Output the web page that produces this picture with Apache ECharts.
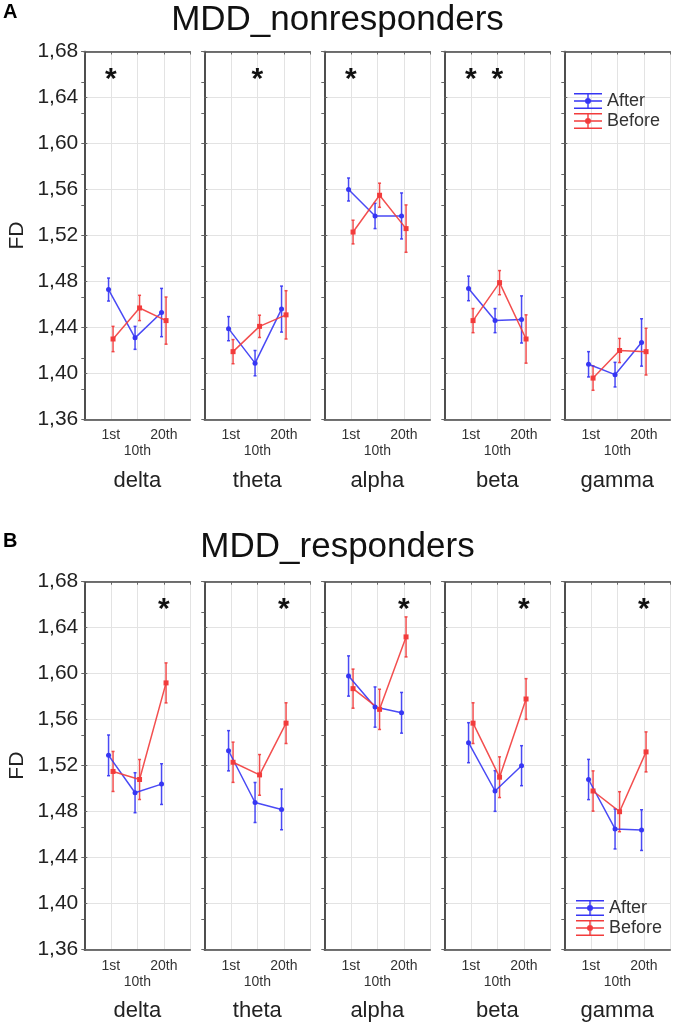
<!DOCTYPE html>
<html><head><meta charset="utf-8">
<script src="https://cdn.jsdelivr.net/npm/echarts@6/dist/echarts.min.js"></script>
<style>html,body{margin:0;padding:0;background:#fff}#c{width:675px;height:1029px}</style>
</head><body><div id="c"></div>
<script>
// ---------- data ----------
const bands = ['delta', 'theta', 'alpha', 'beta', 'gamma'];
const sessions = ['1st', '10th', '20th'];
const sessionPos = [1, 2, 3];
const yMin = 1.36, yMax = 1.68, yStep = 0.04;

// MDD_nonresponders (panel A): rows = bands, cols = sessions
const nonAfter     = [[1.473, 1.431, 1.453], [1.439, 1.409, 1.456], [1.560, 1.537, 1.537], [1.474, 1.446, 1.447], [1.408, 1.399, 1.427]];
const nonAfterErr  = [[0.010, 0.010, 0.021], [0.0105, 0.011, 0.020], [0.010, 0.011, 0.020], [0.0107, 0.0105, 0.0205], [0.011, 0.0107, 0.0206]];
const nonBefore    = [[1.430, 1.457, 1.446], [1.419, 1.441, 1.451], [1.523, 1.555, 1.526], [1.446, 1.479, 1.430], [1.396, 1.420, 1.419]];
const nonBeforeErr = [[0.011, 0.011, 0.0205], [0.0105, 0.0097, 0.021], [0.0103, 0.0105, 0.0206], [0.0105, 0.0105, 0.021], [0.0106, 0.0105, 0.0203]];
const nonSig       = [[0], [1], [0], [0, 1], []];

// MDD_responders (panel B)
const resAfter     = [[1.529, 1.4965, 1.504], [1.533, 1.488, 1.482], [1.598, 1.571, 1.566], [1.540, 1.498, 1.520], [1.508, 1.465, 1.464]];
const resAfterErr  = [[0.0177, 0.0174, 0.0177], [0.0175, 0.0174, 0.0177], [0.0175, 0.0175, 0.0177], [0.0174, 0.0177, 0.0174], [0.0175, 0.0174, 0.0177]];
const resBefore    = [[1.515, 1.508, 1.592], [1.523, 1.512, 1.557], [1.587, 1.569, 1.632], [1.557, 1.510, 1.578], [1.498, 1.480, 1.532]];
const resBeforeErr = [[0.0174, 0.0174, 0.0174], [0.0175, 0.0177, 0.0177], [0.017, 0.0175, 0.0174], [0.0177, 0.0177, 0.0177], [0.0175, 0.0174, 0.0174]];
const resSig       = [[2], [2], [2], [2], [2]];
const sigY = 1.661;

const panelTitles = ['MDD_nonresponders', 'MDD_responders'];
const panelLetters = ['A', 'B'];
const seriesNames = ['After', 'Before'];

// ---------- layout / style ----------
const FONT = '"Liberation Sans", Arial, sans-serif';
const BLUE = '#3636f4', RED = '#f23c3c';
const gridLeft0 = 84.3, gridStride = 120, gridW = 106, gridH = 368;
const panelTop = [51.5, 581.7];
const off = 0.085;
const BOX = '#444', GRID = '#e3e3e3';

const panels = [
  { after: nonAfter, afterErr: nonAfterErr, before: nonBefore, beforeErr: nonBeforeErr, sig: nonSig },
  { after: resAfter, afterErr: resAfterErr, before: resBefore, beforeErr: resBeforeErr, sig: resSig }
];

const grids = [], xBottom = [], xTop = [], yLeft = [], yRight = [], series = [];

function errRender(color) {
  return function (params, api) {
    const x = api.value(0), v = api.value(1), e = api.value(2);
    const t = api.coord([x, v + e]), b = api.coord([x, v - e]);
    const cap = 1.5;
    const st = { stroke: color, lineWidth: 1.5, opacity: 0.9 };
    return { type: 'group', children: [
      { type: 'line', shape: { x1: t[0], y1: t[1], x2: b[0], y2: b[1] }, style: st },
      { type: 'line', shape: { x1: t[0] - cap, y1: t[1], x2: t[0] + cap, y2: t[1] }, style: st },
      { type: 'line', shape: { x1: b[0] - cap, y1: b[1], x2: b[0] + cap, y2: b[1] }, style: st }
    ]};
  };
}
function sigRender(params, api) {
  const p = api.coord([api.value(0), api.value(1)]);
  return { type: 'text', x: p[0], y: p[1] + 6,
    style: { text: '*', fontSize: 30, fontWeight: 'bold', fontFamily: FONT, fill: '#111', align: 'center', verticalAlign: 'middle' } };
}
const xLabel = v => (v === 1 ? sessions[0] : v === 2 ? '\n' + sessions[1] : v === 3 ? sessions[2] : '');

panels.forEach((P, p) => {
  bands.forEach((band, b) => {
    const g = p * 5 + b;
    grids.push({ left: gridLeft0 + b * gridStride, top: panelTop[p], width: gridW, height: gridH });
    xBottom.push({
      gridIndex: g, type: 'value', min: 0, max: 4, interval: 1, position: 'bottom',
      axisLine: { show: true, lineStyle: { color: BOX, width: 1.5 } },
      axisTick: { show: false },
      splitLine: { show: true, lineStyle: { color: GRID, width: 1 } },
      axisLabel: { formatter: xLabel, fontSize: 14, color: '#333', margin: 8, lineHeight: 16, fontFamily: FONT },
      name: band, nameLocation: 'middle', nameGap: 50,
      nameTextStyle: { fontSize: 22, color: '#222', fontFamily: FONT }
    });
    xTop.push({
      gridIndex: g, type: 'value', min: 0, max: 4, interval: 1, position: 'top',
      axisLine: { show: true, lineStyle: { color: BOX, width: 1.5 } },
      axisTick: { show: true, inside: true, length: 3, lineStyle: { color: '#666' } },
      axisLabel: { show: false }, splitLine: { show: false }
    });
    yLeft.push({
      gridIndex: g, type: 'value', min: yMin, max: yMax, interval: yStep, position: 'left',
      axisLine: { show: true, lineStyle: { color: BOX, width: 1.5 } },
      axisTick: { show: true, inside: true, length: 3, lineStyle: { color: '#666' } },
      axisLabel: { show: b === 0, formatter: v => v.toFixed(2).replace('.', ','), fontSize: 21, color: '#222', margin: 6, fontFamily: FONT },
      splitLine: { show: true, lineStyle: { color: GRID, width: 1 } },
      name: b === 0 ? 'FD' : '', nameLocation: 'middle', nameGap: 57,
      nameTextStyle: { fontSize: 21, color: '#222', fontFamily: FONT }
    });
    yRight.push({
      gridIndex: g, type: 'value', min: yMin, max: yMax, interval: 0.08 / 3, position: 'right',
      axisLine: { show: true, lineStyle: { color: BOX, width: 1.5 } },
      axisTick: { show: true, inside: true, length: 3, lineStyle: { color: '#666' } },
      axisLabel: { show: false }, splitLine: { show: false }
    });
    const groups = [
      { name: seriesNames[0], vals: P.after[b], errs: P.afterErr[b], dx: -off, color: BLUE, symbol: 'circle' },
      { name: seriesNames[1], vals: P.before[b], errs: P.beforeErr[b], dx: off, color: RED, symbol: 'rect' }
    ];
    groups.forEach(G => {
      series.push({
        type: 'custom', name: G.name, xAxisIndex: g, yAxisIndex: g, z: 2,
        itemStyle: { color: G.color },
        renderItem: errRender(G.color),
        data: sessionPos.map((x, i) => [x + G.dx, G.vals[i], G.errs[i]])
      });
    });
    groups.forEach(G => {
      series.push({
        type: 'line', name: G.name, xAxisIndex: g, yAxisIndex: g, z: 3,
        symbol: G.symbol, symbolSize: 5, showSymbol: true,
        lineStyle: { color: G.color, width: 1.5, opacity: 0.9 },
        itemStyle: { color: G.color },
        data: sessionPos.map((x, i) => [x + G.dx, G.vals[i]])
      });
    });
    series.push({
      type: 'custom', name: 'sig', xAxisIndex: g, yAxisIndex: g, z: 4,
      renderItem: sigRender,
      data: P.sig[b].map(i => [sessionPos[i], sigY])
    });
  });
});

const icon = 'path://M0,0H28V1.4H0Z M0,7.3H28V8.7H0Z M0,14.6H28V16H0Z M13.3,0H14.7V16H13.3Z M11,8A3,3 0 1 1 17,8A3,3 0 1 1 11,8Z';
const legendBase = {
  data: seriesNames, orient: 'vertical', padding: 0, itemWidth: 28, itemHeight: 16, itemGap: 2,
  icon: icon, selectedMode: false, itemStyle: { borderWidth: 0 },
  textStyle: { fontSize: 18, color: '#333', fontFamily: FONT }
};

const option = {
  animation: false,
  backgroundColor: '#fff',
  title: [
    { text: panelTitles[0], left: 'center', top: 3, padding: 0, textStyle: { fontSize: 35, fontWeight: 'normal', color: '#111', fontFamily: FONT } },
    { text: panelLetters[0], left: 3, top: 2, padding: 0, textStyle: { fontSize: 20, fontWeight: 'bold', color: '#000', fontFamily: FONT } },
    { text: panelTitles[1], left: 'center', top: 530, padding: 0, textStyle: { fontSize: 35, fontWeight: 'normal', color: '#111', fontFamily: FONT } },
    { text: panelLetters[1], left: 3, top: 531, padding: 0, textStyle: { fontSize: 20, fontWeight: 'bold', color: '#000', fontFamily: FONT } }
  ],
  legend: [
    Object.assign({}, legendBase, { left: 574, top: 92 }),
    Object.assign({}, legendBase, { left: 576, top: 899 })
  ],
  grid: grids,
  xAxis: xBottom.concat(xTop),
  yAxis: yLeft.concat(yRight),
  series: series
};
option.xAxis.forEach((a, i) => { a.gridIndex = i % 10; });
option.yAxis.forEach((a, i) => { a.gridIndex = i % 10; });

const chart = echarts.init(document.getElementById('c'), null, { renderer: 'canvas' });
chart.setOption(option);
</script>
</body></html>
